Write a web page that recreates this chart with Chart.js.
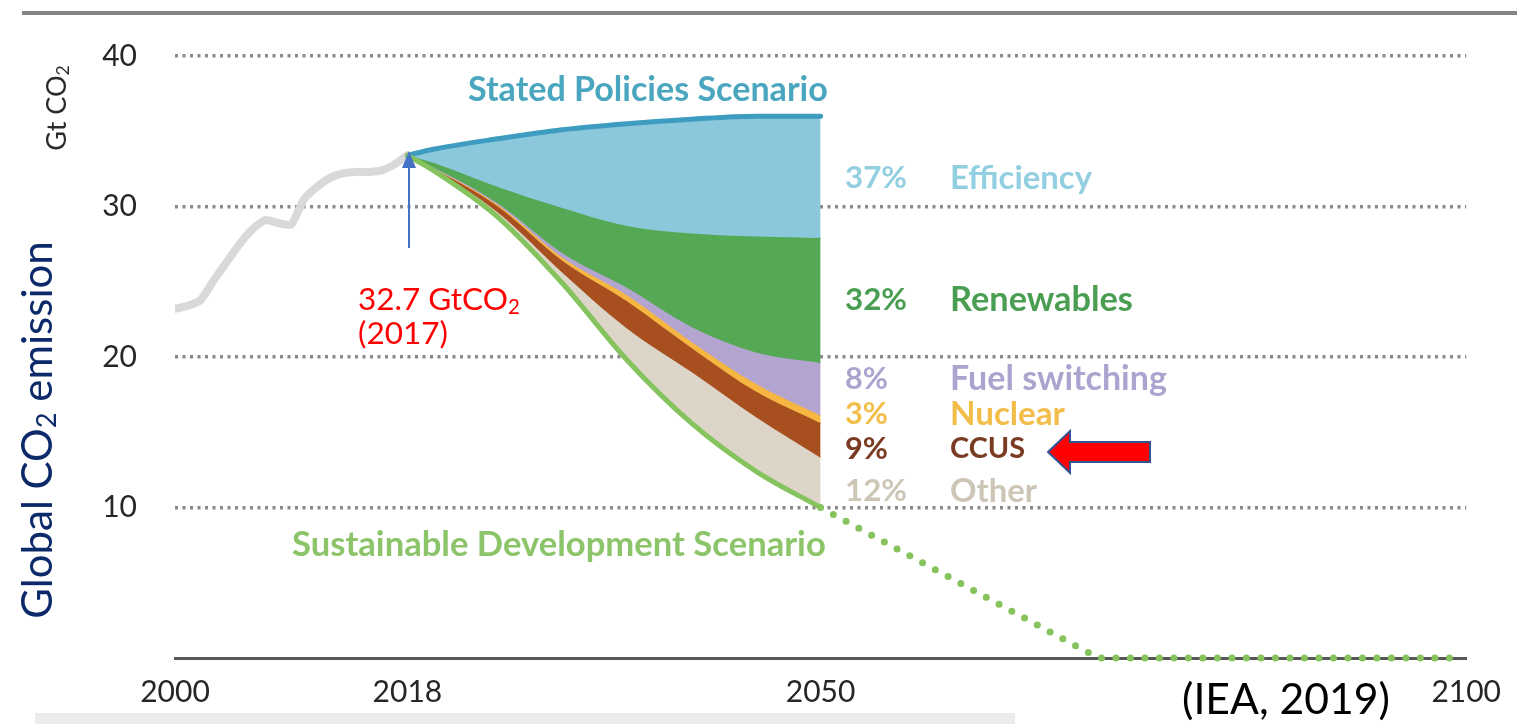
<!DOCTYPE html>
<html>
<head>
<meta charset="utf-8">
<title>Global CO2 emission</title>
<script src="https://cdn.jsdelivr.net/npm/chart.js@4.4.1/dist/chart.umd.min.js"></script>
<style>
  html, body { margin: 0; padding: 0; background: #fff; }
  canvas { display: block; }
</style>
</head>
<body>
<canvas id="co2Chart" width="1517" height="724"></canvas>
<script>
// historical emissions (Gt CO2)
var histYears = [2000, 2001, 2002, 2003, 2004, 2005, 2006, 2007, 2008, 2009, 2010, 2011, 2012, 2013, 2014, 2015, 2016, 2017, 2018];
var histValues = [23.2, 23.4, 23.8, 25.1, 26.3, 27.5, 28.5, 29.1, 28.9, 28.8, 30.5, 31.3, 31.9, 32.2, 32.3, 32.3, 32.4, 32.8, 33.4];

// scenario years and the boundaries of each wedge (top to bottom)
var scenYears = [2018, 2020, 2025, 2030, 2035, 2040, 2045, 2050];
var statedPolicies = [33.4, 33.8, 34.5, 35.1, 35.5, 35.8, 36.0, 36.0];
var efficiencyFloor = [33.4, 32.9, 31.3, 29.9, 28.7, 28.2, 28.0, 27.9];
var renewablesFloor = [33.4, 32.6, 30.2, 26.9, 24.6, 22.0, 20.3, 19.6];
var fuelSwitchFloor = [33.4, 32.58, 30.1, 26.6, 24.1, 21.0, 18.2, 16.1];
var nuclearFloor = [33.4, 32.55, 30.0, 26.4, 23.7, 20.6, 17.7, 15.6];
var ccusFloor = [33.4, 32.5, 29.6, 25.6, 21.9, 19.0, 16.0, 13.3];
var sustainableDev = [33.4, 32.4, 29.3, 24.9, 19.8, 15.6, 12.4, 10.0];

// dotted continuation of the sustainable development path
var sdsTailYears = [2050, 2071.5, 2099];
var sdsTailValues = [10.0, 0, 0];

var xTicks = [2000, 2018, 2050, 2100];
var yTicks = [10, 20, 30, 40];

var wedgeShares = ["37%", "32%", "8%", "3%", "9%", "12%"];
var wedgeNames = ["Efficiency", "Renewables", "Fuel switching", "Nuclear", "CCUS", "Other"];

var FONT = "Lato, 'Open Sans', sans-serif";

function points(xs, ys) {
  return xs.map(function (x, i) { return { x: x, y: ys[i] }; });
}

function wedge(label, values, color) {
  return {
    label: label,
    data: points(scenYears, values),
    borderColor: color,
    borderWidth: 1.5,
    backgroundColor: color,
    fill: '+1',
    pointRadius: 0,
    cubicInterpolationMode: 'monotone'
  };
}

function fitSize(ctx, text, weight, width) {
  ctx.font = weight + ' 100px ' + FONT;
  return 100 * width / ctx.measureText(text).width;
}

// draws text made of parts, some of them subscript; x is the left edge, y the middle
function richText(ctx, parts, x, y, size, weight, color) {
  var cx = x;
  ctx.fillStyle = color;
  ctx.textBaseline = 'middle';
  ctx.textAlign = 'left';
  parts.forEach(function (p) {
    var s = p.sub ? size * 0.65 : size;
    ctx.font = weight + ' ' + s + 'px ' + FONT;
    ctx.fillText(p.t, cx, p.sub ? y + size * 0.22 : y);
    cx += ctx.measureText(p.t).width;
  });
  return cx - x;
}

function richWidth(ctx, parts, size, weight) {
  var w = 0;
  parts.forEach(function (p) {
    ctx.font = weight + ' ' + (p.sub ? size * 0.65 : size) + 'px ' + FONT;
    w += ctx.measureText(p.t).width;
  });
  return w;
}

function rotatedRich(ctx, parts, cx, cy, size, weight, color) {
  ctx.save();
  ctx.translate(cx, cy);
  ctx.rotate(-Math.PI / 2);
  var w = richWidth(ctx, parts, size, weight);
  richText(ctx, parts, -w / 2, 0, size, weight, color);
  ctx.restore();
}

function label(ctx, text, left, right, y, color, weight) {
  var size = fitSize(ctx, text, weight, right - left);
  ctx.font = weight + ' ' + size + 'px ' + FONT;
  ctx.fillStyle = color;
  ctx.textAlign = 'left';
  ctx.textBaseline = 'middle';
  ctx.fillText(text, left, y);
}

var decorPlugin = {
  id: 'decor',
  beforeDraw: function (chart) {
    var c = chart.ctx;
    c.save();
    c.fillStyle = '#ffffff';
    c.fillRect(0, 0, chart.width, chart.height);
    c.strokeStyle = '#858585';
    c.lineWidth = 4;
    c.beginPath();
    c.moveTo(22, 13);
    c.lineTo(chart.width, 13);
    c.stroke();
    c.fillStyle = '#ececec';
    c.fillRect(35, 713, 980, 11);
    c.restore();
  },
  afterDraw: function (chart) {
    var c = chart.ctx;
    c.save();

    rotatedRich(c, [{ t: 'Global CO' }, { t: '2', sub: true }, { t: ' emission' }], 38, 430, 42, 'normal', '#0c2a6a');
    rotatedRich(c, [{ t: 'Gt CO' }, { t: '2', sub: true }], 57, 108, 27, 'normal', '#2b2b2b');

    label(c, 'Stated Policies Scenario', 468, 828, 90, '#4aa6bf', 'bold');
    label(c, 'Sustainable Development Scenario', 292, 826, 545, '#8cc46a', 'bold');

    var colors = ['#92cfe0', '#4a9e52', '#ada3cf', '#f2bd48', '#7a3b22', '#cdc5b6'];
    var ys = [178, 300, 379, 414, 449, 491];
    var shareRight = [907, 907, 888, 888, 888, 907];
    var nameRight = [1092, 1133, 1167, 1065, 1025, 1037];
    for (var i = 0; i < wedgeNames.length; i++) {
      label(c, wedgeShares[i], 845, shareRight[i], ys[i], colors[i], 'bold');
      label(c, wedgeNames[i], 950, nameRight[i], ys[i], colors[i], 'bold');
    }

    // red annotation
    richText(c, [{ t: '32.7 GtCO' }, { t: '2', sub: true }], 358, 300, 31.5, 'normal', '#ff0000');
    richText(c, [{ t: '(2017)' }], 358, 334, 31.5, 'normal', '#ff0000');

    // blue arrow to the 2018 start point
    c.strokeStyle = '#4472c4';
    c.fillStyle = '#4472c4';
    c.lineWidth = 2;
    c.beginPath();
    c.moveTo(409, 248);
    c.lineTo(409, 165);
    c.stroke();
    c.beginPath();
    c.moveTo(409, 151);
    c.lineTo(402, 168);
    c.lineTo(416, 168);
    c.closePath();
    c.fill();

    // red block arrow pointing to CCUS
    c.beginPath();
    c.moveTo(1048, 452);
    c.lineTo(1070, 431);
    c.lineTo(1070, 442);
    c.lineTo(1150, 442);
    c.lineTo(1150, 462);
    c.lineTo(1070, 462);
    c.lineTo(1070, 473);
    c.closePath();
    c.fillStyle = '#ff0000';
    c.fill();
    c.strokeStyle = '#2f5597';
    c.lineWidth = 2;
    c.stroke();

    label(c, '(IEA, 2019)', 1182, 1390, 700, '#000000', 'normal');
    c.restore();
  }
};

var config = {
  type: 'line',
  data: {
    datasets: [
      {
        label: 'Stated Policies Scenario',
        data: points(scenYears, statedPolicies),
        borderColor: '#3d9cc0',
        borderWidth: 5,
        borderCapStyle: 'round',
        backgroundColor: '#8bc8db',
        fill: '+1',
        pointRadius: 0,
        cubicInterpolationMode: 'monotone'
      },
      wedge('Renewables', efficiencyFloor, '#55a854'),
      wedge('Fuel switching', renewablesFloor, '#b3a4d0'),
      wedge('Nuclear', fuelSwitchFloor, '#f6b642'),
      wedge('CCUS', nuclearFloor, '#a84f20'),
      wedge('Other', ccusFloor, '#ddd5c8'),
      {
        label: 'Sustainable Development Scenario',
        data: points(scenYears, sustainableDev),
        borderColor: '#85c35e',
        borderWidth: 5,
        borderCapStyle: 'round',
        fill: false,
        pointRadius: 0,
        cubicInterpolationMode: 'monotone',
        order: -1
      },
      {
        label: 'Historical',
        data: points(histYears, histValues),
        borderColor: '#d9d9d9',
        borderWidth: 8,
        borderCapStyle: 'round',
        borderJoinStyle: 'round',
        fill: false,
        pointRadius: 0,
        tension: 0.2,
        order: 5
      },
      {
        label: 'SDS tail',
        data: points(sdsTailYears, sdsTailValues),
        borderColor: '#86c35c',
        borderWidth: 7,
        borderCapStyle: 'round',
        borderDash: [0, 14.5],
        fill: false,
        pointRadius: 0,
        clip: false,
        order: -2
      }
    ]
  },
  options: {
    responsive: false,
    devicePixelRatio: 1,
    animation: false,
    layout: { padding: { left: 0, right: 47, top: 55, bottom: 0 } },
    plugins: {
      legend: { display: false },
      tooltip: { enabled: false },
      filler: { propagate: false }
    },
    scales: {
      x: {
        type: 'linear',
        min: 2000,
        max: 2100,
        afterBuildTicks: function (scale) {
          scale.ticks = xTicks.map(function (v) { return { value: v }; });
        },
        afterFit: function (scale) { scale.height = 66; },
        grid: { display: false, drawTicks: false },
        border: { display: true, color: '#575757', width: 3 },
        ticks: {
          autoSkip: false,
          maxRotation: 0,
          padding: 16,
          color: '#262626',
          font: { family: FONT, size: 30 },
          callback: function (v) { return String(v); }
        }
      },
      y: {
        min: 0,
        max: 40,
        afterBuildTicks: function (scale) {
          scale.ticks = yTicks.map(function (v) { return { value: v }; });
        },
        afterFit: function (scale) { scale.width = 175; },
        grid: { color: '#8a8a8a', lineWidth: 3.5, drawTicks: false },
        border: { display: false, dash: [3, 4.5] },
        ticks: {
          padding: 38,
          color: '#262626',
          font: { family: FONT, size: 30 }
        }
      }
    }
  },
  plugins: [decorPlugin]
};

var co2Chart = new Chart(document.getElementById('co2Chart'), config);
</script>
</body>
</html>
